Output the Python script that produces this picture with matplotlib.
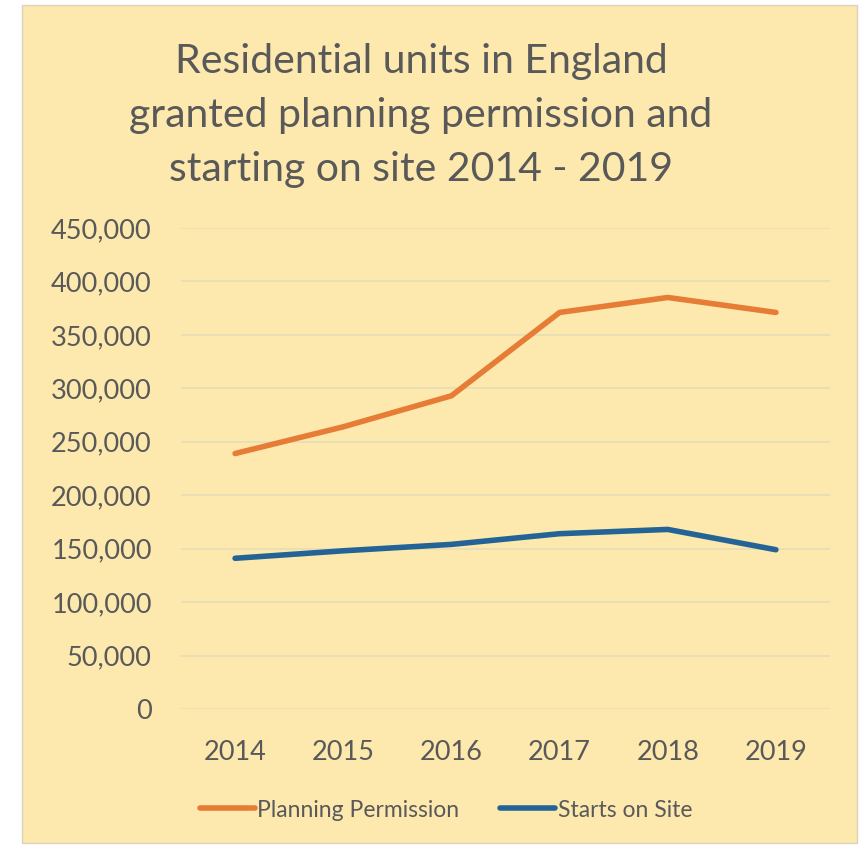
import matplotlib
matplotlib.use('Agg')
import matplotlib.pyplot as plt
from matplotlib.patches import Rectangle
from matplotlib.ticker import FuncFormatter

# Data
years = ['2014', '2015', '2016', '2017', '2018', '2019']
planning_permission = [239000, 264000, 293000, 371000, 385000, 371000]
starts_on_site = [141000, 148000, 154000, 164000, 168000, 149000]
title_lines = ['Residential units in England',
               'granted planning permission and',
               'starting on site 2014 - 2019']

W, H = 863, 847
plt.rcParams['font.family'] = ['Lato', 'DejaVu Sans']

fig = plt.figure(figsize=(W / 100, H / 100), dpi=100, facecolor='white')

# Yellow chart panel
panel = Rectangle((22 / W, 1 - 843 / H), (857 - 22) / W, (843 - 5) / H,
                  transform=fig.transFigure, facecolor='#FDE9AE',
                  edgecolor='#D9D2BC', linewidth=1, zorder=-1)
fig.patches.append(panel)

text_col = '#595959'

for i, line in enumerate(title_lines):
    fig.text(421 / W, 1 - (62 + 54 * i) / H, line, ha='center', va='center',
             fontsize=29.5, color=text_col)

ax = fig.add_axes([181 / W, 1 - 709 / H, (830 - 181) / W, (709 - 228) / H])
ax.set_zorder(2)
ax.set_facecolor('none')

x = range(len(years))
ax.plot(x, planning_permission, color='#E67C35', linewidth=4,
        solid_capstyle='round', label='Planning Permission', zorder=3)
ax.plot(x, starts_on_site, color='#236395', linewidth=4,
        solid_capstyle='round', label='Starts on Site', zorder=3)

ax.set_xlim(-0.5, len(years) - 0.5)
ax.set_ylim(0, 450000)
ax.set_yticks(range(0, 450001, 50000))
ax.yaxis.set_major_formatter(FuncFormatter(lambda v, p: f'{int(v):,}'))
ax.set_xticks(list(x))
ax.set_xticklabels(years)

ax.grid(axis='y', color='#E6DCB6', linewidth=1.2)
ax.set_axisbelow(True)
for s in ax.spines.values():
    s.set_visible(False)
ax.tick_params(axis='both', length=0, labelsize=19.5, colors=text_col)
ax.tick_params(axis='y', pad=21)
ax.tick_params(axis='x', pad=22)

fig.legend(loc='center', bbox_to_anchor=(446 / W, 1 - 810 / H), ncol=2,
           frameon=False, fontsize=16.5, labelcolor=text_col,
           handlelength=2.4, handletextpad=0.1, columnspacing=1.8)

fig.savefig('out.png', dpi=100, facecolor='white')
